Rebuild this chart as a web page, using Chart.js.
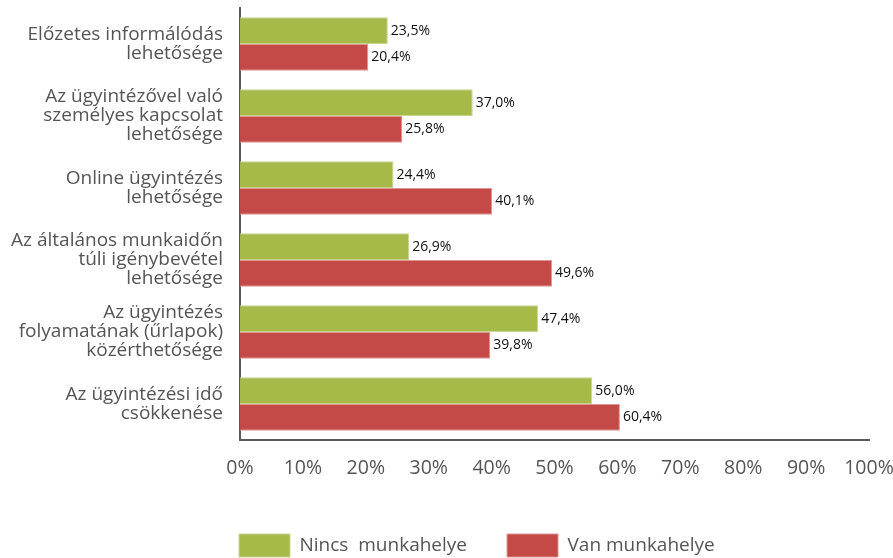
<!DOCTYPE html>
<html lang="hu">
<head>
<meta charset="utf-8">
<title>Ügyintézés</title>
<script src="https://cdn.jsdelivr.net/npm/chart.js@4/dist/chart.umd.min.js"></script>
<style>
    html, body { margin: 0; padding: 0; background: #fff; }
    #wrap { width: 893px; height: 558px; }
</style>
</head>
<body>
<div id="wrap"><canvas id="barChart" width="893" height="558"></canvas></div>
<script>
// Kategóriák (többsoros feliratok)
const categories = [
    ['Előzetes informálódás', 'lehetősége'],
    ['Az ügyintézővel való', 'személyes kapcsolat', 'lehetősége'],
    ['Online ügyintézés', 'lehetősége'],
    ['Az általános munkaidőn', 'túli igénybevétel', 'lehetősége'],
    ['Az ügyintézés', 'folyamatának (űrlapok)', 'közérthetősége'],
    ['Az ügyintézési idő', 'csökkenése']
];

// Százalékos értékek
const nincsMunkahelye = [23.5, 37.0, 24.4, 26.9, 47.4, 56.0];
const vanMunkahelye = [20.4, 25.8, 40.1, 49.6, 39.8, 60.4];

// Tengely beosztás
const xTicks = [0, 10, 20, 30, 40, 50, 60, 70, 80, 90, 100];

const FONT = "'Open Sans', 'Noto Sans', sans-serif";

function formatPct(v) {
    return v.toFixed(1).replace('.', ',') + '%';
}

// Értékek kiírása az oszlopok végére
const valueLabels = {
    id: 'valueLabels',
    afterDatasetsDraw(chart) {
        const ctx = chart.ctx;
        ctx.save();
        ctx.font = '14px ' + FONT;
        ctx.fillStyle = '#111';
        ctx.textAlign = 'left';
        ctx.textBaseline = 'middle';
        chart.data.datasets.forEach((ds, i) => {
            chart.getDatasetMeta(i).data.forEach((bar, j) => {
                ctx.fillText(formatPct(ds.data[j]), bar.x + 3, bar.y);
            });
        });
        ctx.restore();
    }
};

// Jelmagyarázat a tengelyfeliratok alá, a tengely bal széléhez igazítva
const legendPlace = {
    id: 'legendPlace',
    afterLayout(chart) {
        const lg = chart.legend;
        if (!lg || !lg.lineWidths) return;
        const pad = lg.options.labels.padding;
        const startX = (lg.left + pad + lg.right - lg.lineWidths[0]) / 2;
        const dx = 239 - startX;
        const dy = (534 - pad) - lg.top;
        lg.left += dx;
        lg.right += dx;
        lg.top += dy;
        lg.bottom += dy;
    }
};

new Chart(document.getElementById('barChart'), {
    type: 'bar',
    data: {
        labels: categories,
        datasets: [{
            label: 'Nincs  munkahelye',
            data: nincsMunkahelye,
            backgroundColor: '#a6ba4a',
            borderColor: '#c8d590',
            borderWidth: 1,
            borderSkipped: 'start',
            barPercentage: 1,
            categoryPercentage: 0.74
        }, {
            label: 'Van munkahelye',
            data: vanMunkahelye,
            backgroundColor: '#c44a47',
            borderColor: '#de9593',
            borderWidth: 1,
            borderSkipped: 'start',
            barPercentage: 1,
            categoryPercentage: 0.74
        }]
    },
    options: {
        indexAxis: 'y',
        responsive: false,
        animation: false,
        layout: {
            padding: { top: 8, right: 24, left: 0, bottom: 0 }
        },
        plugins: {
            legend: {
                position: 'bottom',
                labels: {
                    boxWidth: 51,
                    boxHeight: 23,
                    padding: 40,
                    color: '#555',
                    font: { family: FONT, size: 19 }
                }
            },
            tooltip: { enabled: false }
        },
        scales: {
            x: {
                min: 0,
                max: 100,
                afterBuildTicks: function (scale) {
                    scale.ticks = xTicks.map(v => ({ value: v }));
                },
                afterFit: function (scale) {
                    scale.height = 45;
                    scale.paddingLeft = 0;
                    scale.paddingRight = 0;
                },
                grid: { display: false, drawTicks: false },
                border: { display: true, color: '#5a5a5a', width: 2 },
                ticks: {
                    padding: 17,
                    color: '#555',
                    font: { family: FONT, size: 19.5 },
                    maxRotation: 0,
                    autoSkip: false,
                    callback: function (value) {
                        return value + '%';
                    }
                }
            },
            y: {
                afterFit: function (scale) {
                    scale.width = 240;
                    scale.paddingTop = 0;
                    scale.paddingBottom = 0;
                },
                grid: { display: false, drawTicks: false },
                border: { display: true, color: '#5a5a5a', width: 2 },
                ticks: {
                    padding: 17,
                    color: '#555',
                    font: { family: FONT, size: 19, lineHeight: 1.0 }
                }
            }
        }
    },
    plugins: [valueLabels, legendPlace]
});
</script>
</body>
</html>
